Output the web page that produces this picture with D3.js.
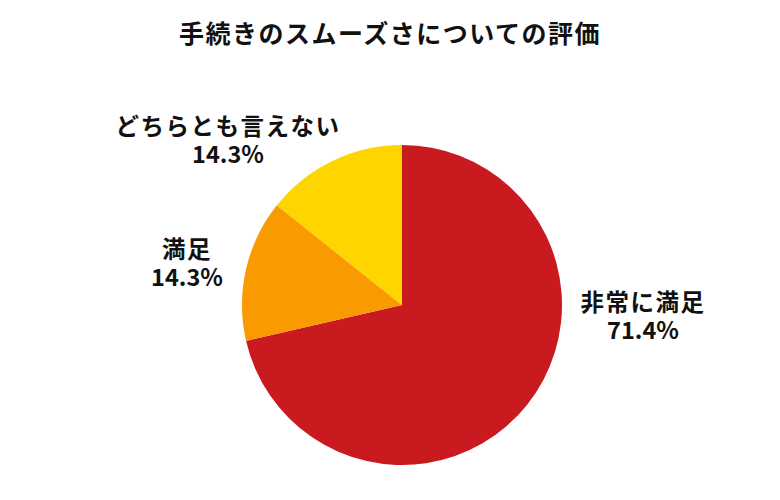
<!DOCTYPE html>
<html>
<head>
<meta charset="utf-8">
<script src="https://cdn.jsdelivr.net/npm/d3@7"></script>
<style>
  html, body { margin: 0; padding: 0; background: #fff; }
  text { font-family: "Noto Sans CJK JP", "Noto Sans", sans-serif; font-weight: bold; fill: #111; }
</style>
</head>
<body>
<svg id="chart" width="780" height="500"></svg>
<script>
var title = '手続きのスムーズさについての評価';
var categories = ['非常に満足', '満足', 'どちらとも言えない'];
var values = [71.4, 14.3, 14.3];
var colors = ['#C91A1F', '#F99B00', '#FFD500'];

var width = 780, height = 500;
var cx = 402, cy = 305, radius = 160;

// where each label sits, relative to the pie centre
var labelOffset = [[241, 6], [-215, -47], [-174, -170]];

var svg = d3.select('#chart');

svg.append('text')
   .attr('x', 390)
   .attr('y', 43)
   .attr('text-anchor', 'middle')
   .style('font-size', '25px')
   .style('letter-spacing', '1.5px')
   .text(title);

var pie = d3.pie().sort(null).value(function (d) { return d; });
var arc = d3.arc().innerRadius(0).outerRadius(radius);

var g = svg.append('g').attr('transform', 'translate(' + cx + ',' + cy + ')');

g.selectAll('path')
 .data(pie(values))
 .enter()
 .append('path')
 .attr('d', arc)
 .attr('fill', function (d, i) { return colors[i]; });

var labels = g.selectAll('g.lbl')
  .data(categories)
  .enter()
  .append('g')
  .attr('class', 'lbl')
  .attr('transform', function (d, i) {
    return 'translate(' + labelOffset[i][0] + ',' + labelOffset[i][1] + ')';
  });

labels.append('text')
  .attr('text-anchor', 'middle')
  .attr('y', 0)
  .style('font-size', '23.5px')
  .style('letter-spacing', '1.5px')
  .text(function (d) { return d; });

labels.append('text')
  .attr('text-anchor', 'middle')
  .attr('y', 28)
  .style('font-size', '23.5px')
  .text(function (d, i) { return values[i].toFixed(1) + '%'; });
</script>
</body>
</html>
